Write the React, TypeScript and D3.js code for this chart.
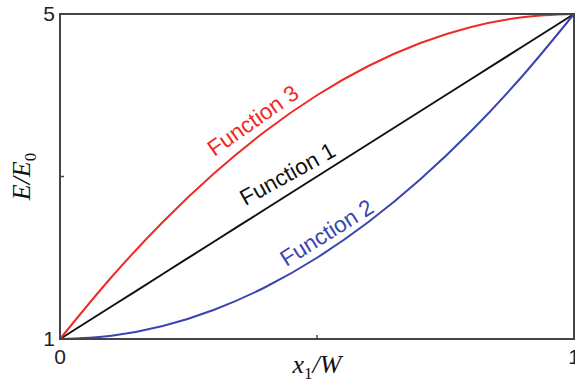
import * as d3 from "d3";
import { useEffect, useRef } from "react";

const xs = [0, 0.1, 0.2, 0.3, 0.4, 0.5, 0.6, 0.7, 0.8, 0.9, 1];
const func1 = [1, 1.4, 1.8, 2.2, 2.6, 3.0, 3.4, 3.8, 4.2, 4.6, 5];
const func2 = [1, 1.04, 1.16, 1.36, 1.64, 2.0, 2.44, 2.96, 3.56, 4.24, 5];
const func3 = [1, 1.76, 2.44, 3.04, 3.56, 4.0, 4.36, 4.64, 4.84, 4.96, 5];

const series = [
  { name: "Function 1", values: func1, color: "#111111", at: 0.45, dy: -12, angle: -29 },
  { name: "Function 2", values: func2, color: "#3a45b0", at: 0.527, dy: -9, angle: -32 },
  { name: "Function 3", values: func3, color: "#ee2a24", at: 0.384, dy: -11, angle: -35 },
];

const W = 575;
const H = 391;

export default function App() {
  const svgRef = useRef<SVGSVGElement | null>(null);

  useEffect(() => {
    const margin = { top: 14, right: 1, bottom: 52, left: 60 };
    const svg = d3.select(svgRef.current);
    svg.selectAll("*").remove();

    const x = d3.scaleLinear().domain([0, 1]).range([margin.left, W - margin.right]);
    const y = d3.scaleLinear().domain([1, 5]).range([H - margin.bottom, margin.top]);

    const line = d3.line<number>()
      .x((_, i) => x(xs[i]))
      .y((d) => y(d))
      .curve(d3.curveMonotoneX);

    const g = svg.append("g");

    // curves
    series.forEach((s) => {
      g.append("path")
        .attr("d", line(s.values))
        .attr("fill", "none")
        .attr("stroke", s.color)
        .attr("stroke-width", 2);
    });

    // frame
    g.append("rect")
      .attr("x", x(0))
      .attr("y", y(5))
      .attr("width", x(1) - x(0))
      .attr("height", y(1) - y(5))
      .attr("fill", "none")
      .attr("stroke", "#444")
      .attr("stroke-width", 2);

    // inward ticks
    g.append("line")
      .attr("x1", x(0)).attr("x2", x(0) + 4)
      .attr("y1", y(3)).attr("y2", y(3))
      .attr("stroke", "#444").attr("stroke-width", 1.5);
    g.append("line")
      .attr("x1", x(0.5)).attr("x2", x(0.5))
      .attr("y1", y(1)).attr("y2", y(1) - 4)
      .attr("stroke", "#444").attr("stroke-width", 1.5);

    // tick labels
    const font = "Liberation Sans, Arial, sans-serif";
    [5, 1].forEach((v) => {
      g.append("text")
        .attr("x", x(0) - 5)
        .attr("y", y(v) + 7)
        .attr("text-anchor", "end")
        .attr("font-family", font)
        .attr("font-size", 21)
        .attr("fill", "#222")
        .text(v);
    });
    [0, 1].forEach((v) => {
      g.append("text")
        .attr("x", x(v))
        .attr("y", y(1) + 25)
        .attr("text-anchor", "middle")
        .attr("font-family", font)
        .attr("font-size", 21)
        .attr("fill", "#222")
        .text(v);
    });

    // curve labels
    series.forEach((s) => {
      const i = s.at * 10;
      const lo = Math.floor(i);
      const hi = Math.min(10, lo + 1);
      const t = i - lo;
      const v = s.values[lo] * (1 - t) + s.values[hi] * t;
      const px = x(s.at);
      const py = y(v) + s.dy;
      g.append("text")
        .attr("transform", `translate(${px},${py}) rotate(${s.angle})`)
        .attr("text-anchor", "middle")
        .attr("font-family", font)
        .attr("font-size", 22.5)
        .attr("fill", s.color)
        .text(s.name);
    });

    // axis titles
    const serif = "Liberation Serif, Times New Roman, serif";
    const xt = g.append("text")
      .attr("x", x(0.5))
      .attr("y", H - 18)
      .attr("text-anchor", "middle")
      .attr("font-family", serif)
      .attr("font-size", 26)
      .attr("fill", "#111");
    xt.append("tspan").attr("font-style", "italic").text("x");
    xt.append("tspan").attr("font-size", 17).attr("dy", 6).text("1");
    xt.append("tspan").attr("font-style", "italic").attr("dy", -6).text("/W");

    const yt = g.append("text")
      .attr("transform", `translate(30,${y(3)}) rotate(-90)`)
      .attr("text-anchor", "middle")
      .attr("font-family", serif)
      .attr("font-size", 26)
      .attr("fill", "#111");
    yt.append("tspan").attr("font-style", "italic").text("E/E");
    yt.append("tspan").attr("font-size", 17).attr("dy", 6).text("0");
  }, []);

  return (
    <svg
      ref={svgRef}
      width={W}
      height={H}
      style={{ position: "absolute", left: 0, top: 0, background: "#fff" }}
    />
  );
}
